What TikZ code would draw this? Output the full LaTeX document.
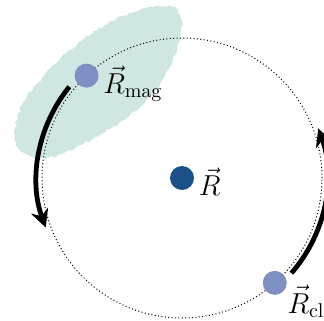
\documentclass[tikz,border=0pt]{standalone}
\usepackage{amsmath}
\usepackage{xcolor}
\usepackage{tikz}
\usetikzlibrary{arrows.meta, positioning, decorations.pathmorphing}
\definecolor{blobteal}{HTML}{CFE6E3}
\definecolor{dotlight}{HTML}{7F8FC3}
\definecolor{dotdark}{HTML}{1B5186}
\tikzstyle{vecdot} = [circle, minimum size=12pt, inner sep=0pt, draw=none]
\tikzstyle{orbit}  = [dash pattern=on 0.5pt off 1.2pt, line width=0.5pt]
\tikzstyle{motion} = [line width=2.4pt, -{Stealth[length=9pt, width=9pt]}]
\tikzstyle{lbl}    = [inner sep=1pt, font=\Large]
\tikzstyle{blob}   = [fill=blobteal, decorate,
                      decoration={random steps, segment length=1.5pt, amplitude=0.6pt}]

\begin{document}
\begin{tikzpicture}[x=0.5pt, y=0.5pt]
\useasboundingbox (0,0) rectangle (324,320);
\pgfmathsetseed{7}

\coordinate (o) at (182,142);

% magnetic region
\fill [blob] plot [smooth cycle, tension=0.6] coordinates {
  (15,185) (22,215) (45,245) (70,270) (105,295) (145,312) (172,313)
  (182,298) (177,272) (165,245) (150,223) (123,200) (100,185)
  (70,170) (45,162) (22,168)};

% orbit
\draw [orbit] (o) circle [radius=70pt];

% motion arrows
\coordinate (m0) at ([shift={(141:72.5pt)}]o);
\coordinate (c0) at ([shift={(-41:72.5pt)}]o);
\draw [motion] (m0) arc [start angle=141, end angle=200, radius=72.5pt];
\draw [motion] (c0) arc [start angle=-41, end angle=20, radius=72.5pt];

\node (c)   [vecdot, fill=dotdark]  at (o) {};
\node (mag) [vecdot, fill=dotlight] at ([shift={(133:70pt)}]o) {};
\node (cl)  [vecdot, fill=dotlight] at ([shift={(-48.5:70pt)}]o) {};

\node (cLabel)   [lbl, right=1pt of c, yshift=-1.75pt] {$\vec{R}$};
\node (magLabel) [lbl, right=1pt of mag, yshift=-4pt]  {$\vec{R}_{\mathrm{mag}}$};
\node (clLabel)  [lbl, anchor=north west] at ([xshift=-1pt]cl.east) {$\vec{R}_{\mathrm{cl}}$};

\end{tikzpicture}
\end{document}
